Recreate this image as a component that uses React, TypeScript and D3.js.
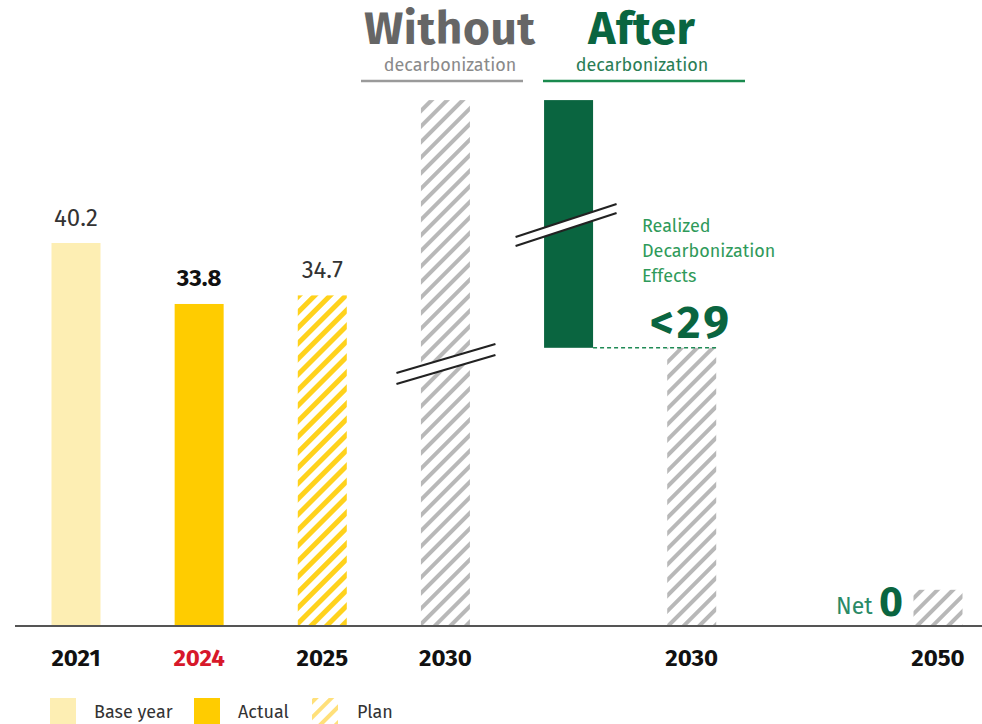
import React from "react";
import * as d3 from "d3";

const slots = ["2021", "2024", "2025", "2030w", "after", "2030", "gap", "2050"];
const axisLabels = ["2021", "2024", "2025", "2030", "", "2030", "", "2050"];
const labelColors = ["#111", "#d7182a", "#111", "#111", "", "#111", "", "#111"];

const barKeys = ["2021", "2024", "2025", "2030w", "2030", "2050"];
const barValues = [40.2, 33.8, 34.7, 55.2, 29.2, 3.8];
const barStyles = ["base", "actual", "planY", "planG", "planG", "planG"];
const valueLabels = ["40.2", "33.8", "34.7", "", "", ""];
const valueBold = [false, true, false, false, false, false];

const effectTop = 55.2;
const effectBottom = 29.2;

const legendNames = ["Base year", "Actual", "Plan"];
const legendStyles = ["base", "actual", "planY"];

const W = 982;
const H = 724;
const baseY = 626;

export default function App() {
  const x = d3.scalePoint<string>().domain(slots).range([76, 938]);
  const y = d3.scaleLinear().domain([0, 40.2]).range([baseY, 243]);
  const bw = 49;

  const fillFor = (s: string) =>
    s === "base" ? "#fdeeb3" : s === "actual" ? "#ffcc00" : s === "planY" ? "url(#hatchY)" : "url(#hatchG)";

  const font = "'Fira Sans', 'Noto Sans', 'Open Sans', sans-serif";

  const breakMark = (x0: number, x1: number, yA0: number, yA1: number, gap: number) => {
    const pts = [
      [x0, yA0],
      [x1, yA1],
      [x1, yA1 + gap],
      [x0, yA0 + gap],
    ];
    return (
      <g>
        <polygon points={pts.map((p) => p.join(",")).join(" ")} fill="#fff" />
        <line x1={x0} y1={yA0} x2={x1} y2={yA1} stroke="#222" strokeWidth={2.2} />
        <line x1={x0} y1={yA0 + gap} x2={x1} y2={yA1 + gap} stroke="#222" strokeWidth={2.2} />
      </g>
    );
  };

  const wx = x("2030w")!;
  const ax = x("after")!;
  const px = x("2030")!;

  return (
    <svg
      width={W}
      height={H}
      style={{ position: "fixed", left: 0, top: 0, background: "#fff" }}
      fontFamily={font}
    >
      <defs>
        <pattern id="hatchG" patternUnits="userSpaceOnUse" width={11} height={11} patternTransform="rotate(45)">
          <rect width={11} height={11} fill="#fff" />
          <rect x={0} y={0} width={4} height={11} fill="#b8b8b8" />
        </pattern>
        <pattern id="hatchY" patternUnits="userSpaceOnUse" width={11} height={11} patternTransform="rotate(45)">
          <rect width={11} height={11} fill="#fff" />
          <rect x={0} y={0} width={5} height={11} fill="#ffd21c" />
        </pattern>
        <pattern id="hatchYL" patternUnits="userSpaceOnUse" width={11} height={11} patternTransform="rotate(45)">
          <rect width={11} height={11} fill="#fff" />
          <rect x={0} y={0} width={4} height={11} fill="#ffe07a" />
        </pattern>
      </defs>

      {/* bars */}
      {barKeys.map((k, i) => (
        <rect
          key={k}
          x={x(k)! - bw / 2}
          y={y(barValues[i])}
          width={bw}
          height={baseY - y(barValues[i])}
          fill={fillFor(barStyles[i])}
        />
      ))}

      {/* realized effect bar */}
      <rect x={ax - bw / 2} y={y(effectTop)} width={bw} height={y(effectBottom) - y(effectTop)} fill="#0a6540" />
      <line
        x1={ax + bw / 2}
        x2={px + bw / 2}
        y1={y(effectBottom)}
        y2={y(effectBottom)}
        stroke="#1f8a55"
        strokeWidth={1.5}
        strokeDasharray="4,3"
      />

      {/* value labels */}
      {barKeys.map((k, i) =>
        valueLabels[i] ? (
          <text
            key={"v" + k}
            x={x(k)!}
            y={y(barValues[i]) - (valueBold[i] ? 18 : 17)}
            textAnchor="middle"
            fontSize={24}
            fontWeight={valueBold[i] ? 700 : 400}
            fill={valueBold[i] ? "#111" : "#333"}
          >
            {valueLabels[i]}
          </text>
        ) : null
      )}

      {/* break marks */}
      {breakMark(wx - 49, wx + 50, 373, 344, 11)}
      {breakMark(ax - 53, ax + 48, 237, 204, 9)}

      {/* axis */}
      <line x1={15} x2={W} y1={baseY} y2={baseY} stroke="#555" strokeWidth={2} />
      {slots.map((s, i) =>
        axisLabels[i] ? (
          <text
            key={"a" + s}
            x={x(s)!}
            y={666}
            textAnchor="middle"
            fontSize={24}
            fontWeight={700}
            fill={labelColors[i]}
          >
            {axisLabels[i]}
          </text>
        ) : null
      )}

      {/* headers */}
      <text x={450} y={44} textAnchor="middle" fontSize={46} fontWeight={700} fill="#666" letterSpacing={0.6}>
        Without
      </text>
      <text x={450} y={71} textAnchor="middle" fontSize={18} fill="#8a8a8a">
        decarbonization
      </text>
      <line x1={361} x2={523} y1={81} y2={81} stroke="#9a9a9a" strokeWidth={2.5} />
      <text x={642} y={44} textAnchor="middle" fontSize={46} fontWeight={700} fill="#0a6540" letterSpacing={0.6}>
        After
      </text>
      <text x={642} y={71} textAnchor="middle" fontSize={18} fill="#2a7d55">
        decarbonization
      </text>
      <line x1={543} x2={745} y1={81} y2={81} stroke="#1a8a4e" strokeWidth={2.5} />

      {/* annotation */}
      {["Realized", "Decarbonization", "Effects"].map((t, i) => (
        <text key={t} x={642} y={232 + i * 25} fontSize={18} fill="#2f9a5a">
          {t}
        </text>
      ))}
      <text x={650} y={338} fontSize={46} fontWeight={700} fill="#0a6540" letterSpacing={3}>
        {"<29"}
      </text>

      {/* net zero */}
      <text x={836} y={614} fontSize={23} fill="#2a8a66">
        Net
      </text>
      <text x={879} y={616} fontSize={41} fontWeight={700} fill="#0a6540">
        0
      </text>

      {/* legend */}
      {legendNames.map((n, i) => {
        const lx = [50, 194, 312][i];
        const tx = [94, 238, 357][i];
        return (
          <g key={n}>
            <rect
              x={lx}
              y={698}
              width={26}
              height={30}
              fill={legendStyles[i] === "planY" ? "url(#hatchYL)" : fillFor(legendStyles[i])}
            />
            <text x={tx} y={718} fontSize={18} fill="#333">
              {n}
            </text>
          </g>
        );
      })}
    </svg>
  );
}
